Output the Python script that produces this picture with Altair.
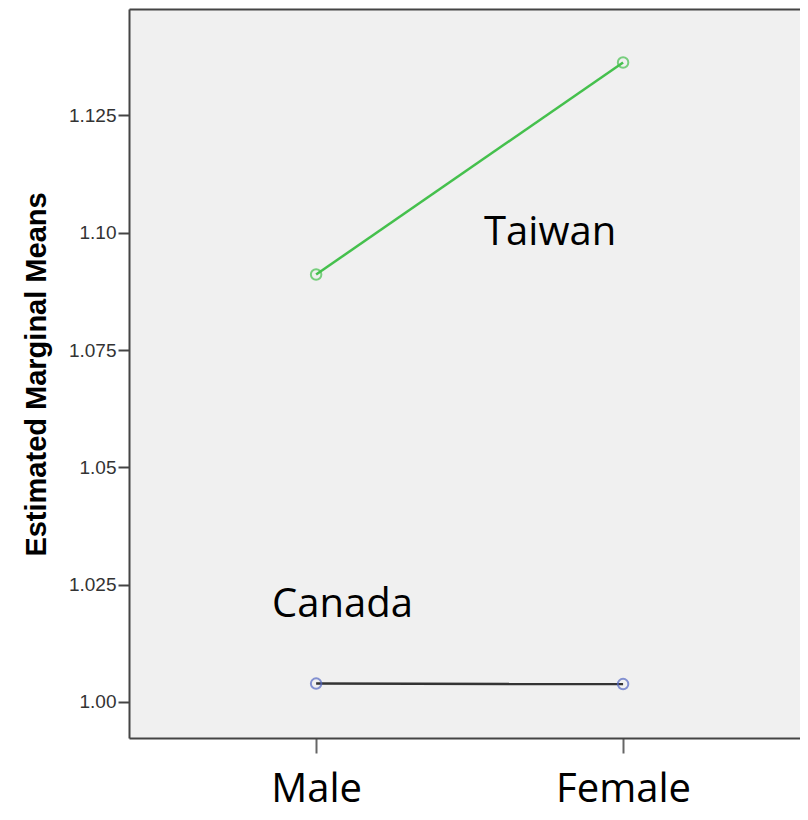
import altair as alt
import pandas as pd

genders = ["Male", "Female"]
countries = ["Taiwan", "Canada"]
taiwan = [1.0911, 1.1363]
canada = [1.0039, 1.0038]
y_ticks = [1.0, 1.025, 1.05, 1.075, 1.1, 1.125]

label_text = ["Taiwan", "Canada"]
label_gender = ["Female", "Male"]
label_value = [1.0974, 1.0180]

df = pd.DataFrame({
    "gender": genders * 2,
    "mean": taiwan + canada,
    "country": ["Taiwan"] * 2 + ["Canada"] * 2,
})
lab = pd.DataFrame({"gender": label_gender, "mean": label_value, "text": label_text})

xscale = alt.Scale(type="point", padding=0.593, align=0.514)

x_bottom = alt.X(
    "gender:N", sort=genders, scale=xscale,
    axis=alt.Axis(title=None, labelAngle=0, labelFont="Open Sans", labelFontSize=40,
                  labelColor="black", labelBaseline="alphabetic", labelPadding=48,
                  tickSize=15, tickColor="#666666", tickWidth=2,
                  domain=True, domainColor="#444444", domainWidth=2, grid=False),
)
x_top = alt.X(
    "gender:N", sort=genders, scale=xscale,
    axis=alt.Axis(orient="top", title=None, labels=False, ticks=False,
                  domain=True, domainColor="#444444", domainWidth=2, grid=False),
)
x_none = alt.X("gender:N", sort=genders, scale=xscale, axis=None)

y = alt.Y(
    "mean:Q",
    scale=alt.Scale(domain=[0.9923, 1.1477], nice=False, zero=False),
    axis=alt.Axis(
        values=y_ticks,
        labelExpr="datum.value == 1 ? '1.00' : datum.value == 1.05 ? '1.05' : datum.value == 1.1 ? '1.10' : format(datum.value, '.3f')",
        labelFont="Liberation Sans", labelFontSize=19, labelColor="#333333", labelPadding=2,
        tickSize=11, tickWidth=2, tickColor="#444444", grid=False,
        domain=True, domainColor="#444444", domainWidth=2,
        title="Estimated Marginal Means", titleFont="Liberation Sans", titleFontWeight="bold",
        titleFontSize=29, titleColor="black", titleX=-84, titleY=365, titleAlign="center",
        titleBaseline="alphabetic", titleAngle=270,
    ),
)

lines = alt.Chart(df).mark_line(strokeWidth=2.5).encode(
    x=x_bottom, y=y, detail="country:N",
    color=alt.Color("country:N", scale=alt.Scale(domain=countries, range=["#45c04d", "#333333"]), legend=None),
)
points = alt.Chart(df).mark_point(shape="circle", filled=False, size=110, strokeWidth=2).encode(
    x=x_top, y=y,
    stroke=alt.Stroke("country:N", scale=alt.Scale(domain=countries, range=["#45c04d", "#5468c4"]), legend=None),
)
t_taiwan = alt.Chart(lab[lab.text == "Taiwan"]).mark_text(
    font="Open Sans", fontSize=40, color="black", align="left", baseline="alphabetic", dx=-139
).encode(x=x_none, y=y, text="text:N")
t_canada = alt.Chart(lab[lab.text == "Canada"]).mark_text(
    font="Open Sans", fontSize=40, color="black", align="left", baseline="alphabetic", dx=-44
).encode(x=x_none, y=y, text="text:N")

chart = alt.layer(lines, points, t_taiwan, t_canada).resolve_axis(x="independent").properties(
    width=671, height=729,
    autosize=alt.AutoSizeParams(type="none"),
    padding={"left": 121, "top": 1, "right": 0, "bottom": 74},
    background="white",
).configure_view(stroke=None, fill="#f0f0f0")

chart.save("out.html", embed_options={"renderer": "svg", "actions": False})
